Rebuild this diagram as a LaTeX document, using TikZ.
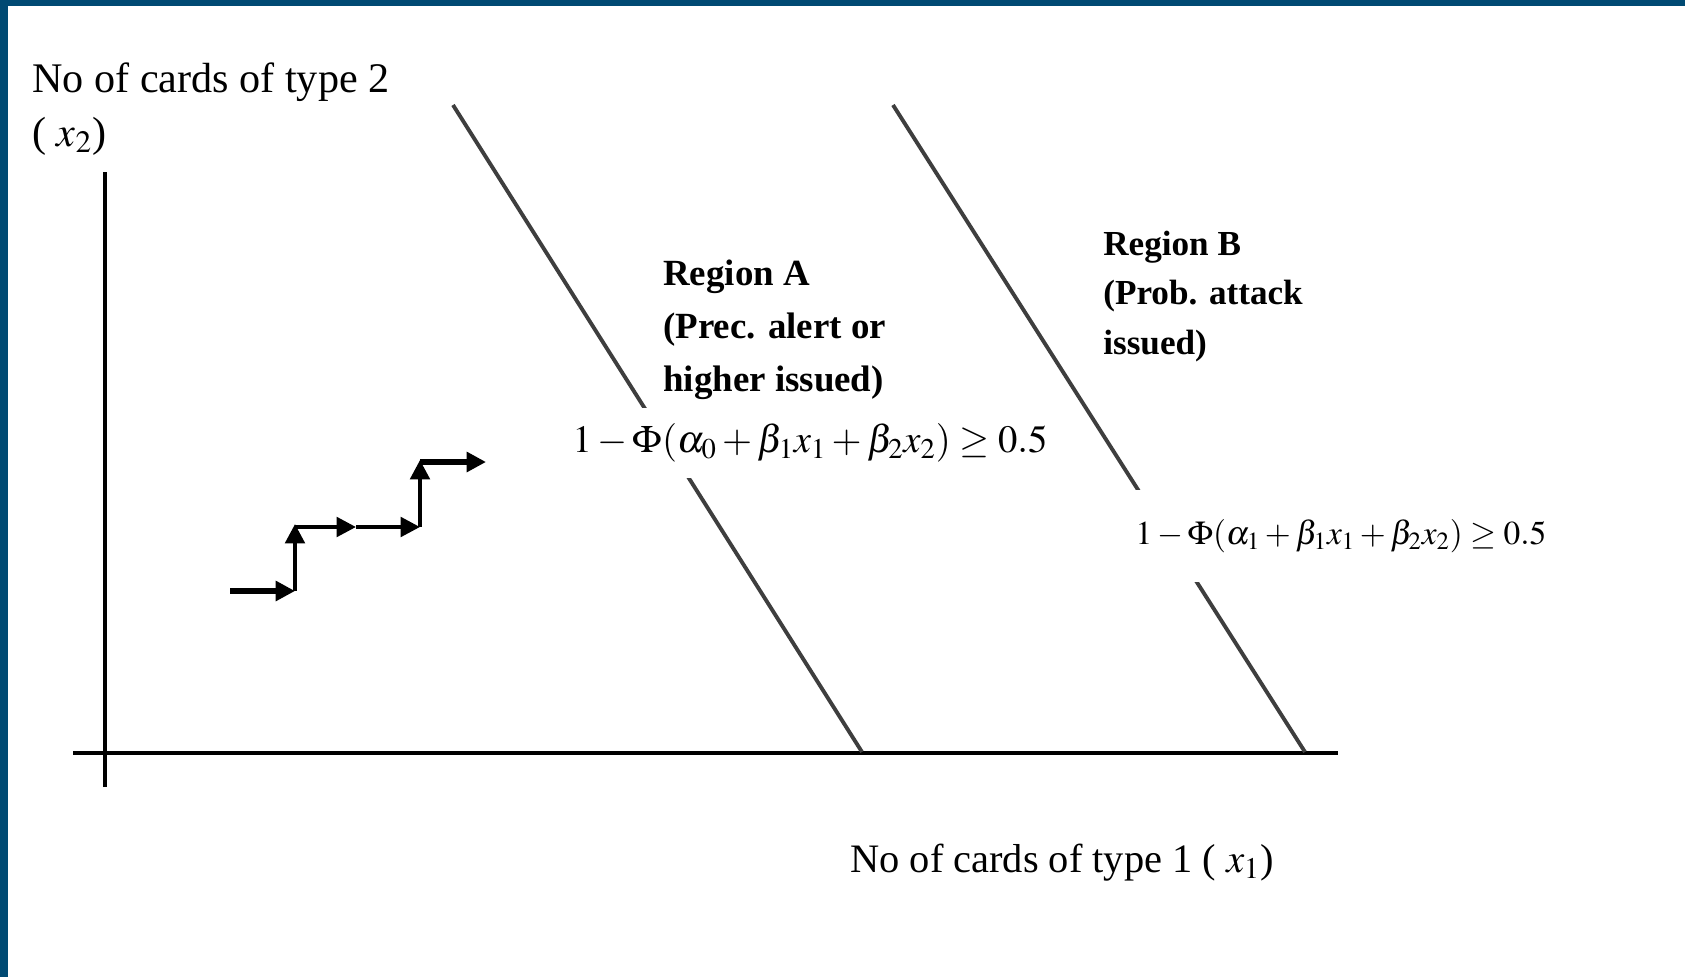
\documentclass[tikz,border=0pt]{standalone}
\usepackage{mathptmx}
\usepackage{fontspec}
\setmainfont{Liberation Serif}
\usetikzlibrary{arrows.meta}

\definecolor{frameblue}{RGB}{0,74,115}
\definecolor{boundgray}{RGB}{62,62,62}

\tikzset{
  axisline/.style={line width=1.8pt, black},
  boundline/.style={line width=2.2pt, boundgray},
  walk/.style={line width=2.3pt, black, -{Triangle[length=11pt,width=11pt]}},
  walkthick/.style={walk, line width=3.8pt},
  condition/.style={fill=white, inner sep=0pt},
  regionlabel/.style={align=left, anchor=north west, inner sep=0pt},
  axislabel/.style={align=left, inner sep=0pt}
}

\begin{document}
\begin{tikzpicture}[x=0.02cm, y=-0.02cm]

  % ================================================================
  % Page and frame
  % ================================================================

  \fill[white] (0, 0) rectangle (1685, 977);
  \fill[frameblue] (0, 0) rectangle (8, 977);
  \fill[frameblue] (0, 0) rectangle (1685, 6);
  \useasboundingbox (0, 0) rectangle (1685, 977);

  % ================================================================
  % Axes
  % ================================================================

  \coordinate (xstart) at (73, 753);
  \coordinate (xend)   at (1338, 753);
  \coordinate (ybot)   at (105, 787);
  \coordinate (ytop)   at (105, 172);

  \draw[axisline] (xstart) -- (xend);
  \draw[axisline] (ybot) -- (ytop);

  \node[axislabel, anchor=north west,
        font=\fontsize{24}{31}\selectfont] (ylab) at (32, 62)
    {No of cards of type 2\\( $x_2$)};

  \node[axislabel, anchor=base west,
        font=\fontsize{23}{28}\selectfont] (xlab) at (850, 872)
    {No of cards of type 1 ( $x_1$)};

  % ================================================================
  % Decision boundaries
  % ================================================================

  \coordinate (Atop) at (453, 105);
  \coordinate (Abot) at (862, 752);
  \coordinate (Btop) at (893, 105);
  \coordinate (Bbot) at (1305, 752);

  \draw[boundline] (Atop) -- (Abot);
  \draw[boundline] (Btop) -- (Bbot);

  % --- boundary conditions (white boxes break the lines) ---
  \node[condition, minimum width=9.7cm, minimum height=1.4cm,
        font=\fontsize{22}{26}\selectfont] (condA) at (810, 443)
    {$1-\Phi(\alpha_0+\beta_1x_1+\beta_2x_2)\geq 0.5$};

  \node[condition, minimum width=9.24cm, minimum height=1.86cm,
        font=\fontsize{19}{23}\selectfont] (condB) at (1341, 536)
    {$1-\Phi(\alpha_1+\beta_1x_1+\beta_2x_2)\geq 0.5$};

  % ================================================================
  % Region labels
  % ================================================================

  \node[regionlabel, font=\fontsize{21}{30}\selectfont\bfseries]
    (regA) at (663, 260)
    {Region A\\(Prec. alert or\\higher issued)};

  \node[regionlabel, font=\fontsize{20}{28}\selectfont\bfseries]
    (regB) at (1103, 231)
    {Region B\\(Prob. attack\\issued)};

  % ================================================================
  % Staircase path of card counts
  % ================================================================

  \coordinate (s0) at (230, 591);
  \coordinate (s1) at (295, 591);
  \coordinate (s2) at (295, 524);
  \coordinate (s3) at (356, 527);
  \coordinate (s4) at (420, 527);
  \coordinate (s5) at (420, 460);
  \coordinate (s6) at (486, 462);

  \draw[walkthick] (s0) -- (s1);
  \draw[walk] (s1) -- (s2);
  \draw[walk] (295, 527) -- (s3);
  \draw[walk] (s3) -- (s4);
  \draw[walk] (s4) -- (s5);
  \draw[walkthick] (420, 462) -- (s6);

\end{tikzpicture}
\end{document}
